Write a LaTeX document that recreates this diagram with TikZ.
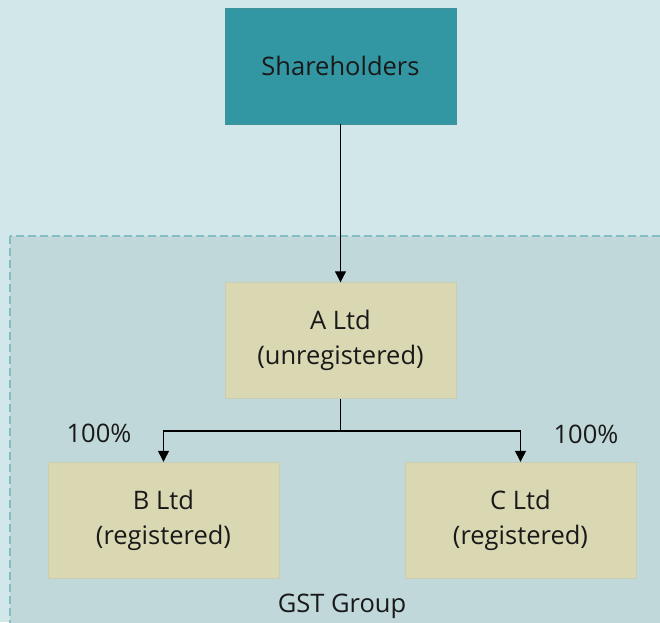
\documentclass[tikz,border=0pt]{standalone}
\usepackage{fontspec}
\setmainfont{Open Sans}
\usetikzlibrary{arrows.meta}
\definecolor{bgout}{HTML}{D2E7EA}
\definecolor{bggrp}{HTML}{C1D8DB}
\definecolor{grpline}{HTML}{84BEC3}
\definecolor{teal}{HTML}{3397A3}
\definecolor{beige}{HTML}{DAD8B3}
\definecolor{beigeline}{HTML}{C9CDB4}
\tikzset{
  box/.style={draw=#1, minimum width=231pt, minimum height=116pt, inner sep=0pt, align=center, font=\fontsize{25.5}{35}\selectfont, text=black!90},
  ent/.style={box=beigeline, fill=beige},
  lbl/.style={font=\fontsize{25.5}{30}\selectfont, text=black!90, inner sep=0pt},
  conn/.style={draw=black, line width=1.2pt, -{Triangle[length=11pt,width=11pt]}}
}
\begin{document}
\begin{tikzpicture}[x=1pt,y=-1pt]
\fill[bgout] (0,0) rectangle (660,622);
\useasboundingbox (0,0) rectangle (660,622);
\path[fill=bggrp, draw=grpline, dash pattern=on 8pt off 4pt, line width=2pt] (9.5,235.5) rectangle (680,640);
\node[box=teal!80!gray, fill=teal] (sh) at (340.5,66) {Shareholders};
\node[ent] (a) at (340.5,340.5) {A Ltd\\(unregistered)};
\node[ent] (b) at (163.5,520) {B Ltd\\(registered)};
\node[ent] (c) at (520.5,520) {C Ltd\\(registered)};
\draw[conn, line width=1pt] (sh.south) -- (a.north);
\coordinate (j) at (340.5,431);
\draw[conn] (a.south) -- (j) -| (b.north);
\draw[conn] (j) -| (c.north);
\node[lbl] (p1) at (99,433) {100\%};
\node[lbl] (p2) at (586,434) {100\%};
\node[lbl] (g) at (342,606) {GST Group};
\end{tikzpicture}
\end{document}
